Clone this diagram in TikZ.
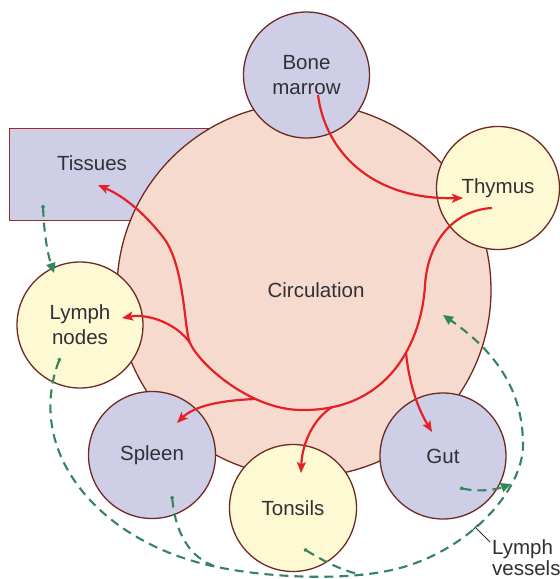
\documentclass[tikz,border=0pt]{standalone}
\usepackage{fontspec}
\setmainfont{Liberation Sans}
\usetikzlibrary{arrows.meta}
\definecolor{peach}{RGB}{247,218,206}
\definecolor{lav}{RGB}{206,206,230}
\definecolor{cream}{RGB}{253,249,210}
\definecolor{edge}{RGB}{110,42,34}
\definecolor{tisedge}{RGB}{150,44,44}
\definecolor{redl}{RGB}{229,32,38}
\definecolor{grn}{RGB}{52,132,92}
\definecolor{txt}{RGB}{48,48,54}
\tikzset{
  organ/.style={circle, draw=edge, line width=1.3pt, inner sep=0pt, align=center, text=txt},
  lavc/.style={organ, fill=lav},
  creamc/.style={organ, fill=cream},
  bigc/.style={circle, draw=edge, line width=1.3pt, fill=peach, inner sep=0pt, minimum size=374pt},
  tisbox/.style={rectangle, draw=tisedge, line width=1.3pt, fill=lav, inner sep=0pt},
  lbl/.style={inner sep=0pt, text=txt, align=center},
  flow/.style={draw=redl, line width=2.2pt, -{Stealth[length=11pt,width=9pt,inset=2.5pt]}},
  lymphflow/.style={draw=grn, line width=2.1pt, dash pattern=on 9pt off 6pt},
  lymphtip/.style={lymphflow, {Circle[length=3.5pt]}-{Triangle[length=10pt,width=9pt]}},
  lymphjoin/.style={lymphflow, {Circle[length=3.5pt]}-},
  leader/.style={draw=txt, line width=0.9pt, {Bar[width=7pt]}-}
}
\begin{document}
\begin{tikzpicture}[x=1pt,y=-1pt,font=\fontsize{20.5}{25}\selectfont]
\useasboundingbox (0,0) rectangle (560,579);
\fill[white] (0,0) rectangle (560,579);

% tissues box (behind circulation)
\node[tisbox, anchor=north west, minimum width=221pt, minimum height=92pt] (tis) at (9,128) {};
% circulation
\node[bigc] (circ) at (304,290) {};
\node[lbl] (circlbl) at (316,290) {Circulation};
\node[lbl] (tislbl) at (92,163) {Tissues};

% organs
\node[lavc, minimum size=126pt] (bm) at (306.5,75) {Bone\\marrow};
\node[creamc, minimum size=123pt] (thy) at (498,188) {Thymus};
\node[creamc, minimum size=126pt] (ln) at (80,325) {Lymph\\nodes};
\node[lavc, minimum size=127pt] (spl) at (152,455) {Spleen};
\node[creamc, minimum size=127pt] (ton) at (293,508) {Tonsils};
\node[lavc, minimum size=126pt] (gut) at (443,456) {Gut};

% red flows
\coordinate (bm-s) at (318,95);
\coordinate (thy-e) at (463,198);
\draw[flow] (bm-s) .. controls (325,150) and (370,200) .. (thy-e);

\coordinate (thy-s) at (492,208);
\coordinate (j) at (190,343);
\coordinate (tis-e) at (98,185);
\draw[flow] (thy-s) .. controls (455,210) and (428,240) .. (425,285)
  .. controls (422,340) and (390,412) .. (300,410)
  .. controls (250,409) and (200,365) .. (j)
  .. controls (184,330) and (185,265) .. (163,237)
  .. controls (148,218) and (128,198) .. (tis-e);

\coordinate (ln-e) at (122,318);
\draw[flow] (j) .. controls (178,325) and (150,313) .. (ln-e);

\coordinate (spl-b) at (256,399);
\coordinate (spl-e) at (177,423);
\draw[flow] (spl-b) .. controls (225,400) and (195,405) .. (spl-e);

\coordinate (ton-b) at (332,407);
\coordinate (ton-e) at (301,473);
\draw[flow] (ton-b) .. controls (312,420) and (302,445) .. (ton-e);

\coordinate (gut-b) at (406,353);
\coordinate (gut-e) at (432,432);
\draw[flow] (gut-b) .. controls (410,390) and (420,412) .. (gut-e);

% lymph vessels
\coordinate (tis-s) at (43,205);
\coordinate (ln-t) at (54,273);
\draw[lymphtip] (tis-s) .. controls (44,235) and (48,255) .. (ln-t);

\coordinate (ln-s) at (60,358);
\coordinate (lv-e) at (443,315);
\draw[lymphtip] (ln-s) .. controls (25,450) and (95,535) .. (200,563)
  .. controls (252,577) and (345,583) .. (400,568)
  .. controls (470,549) and (523,490) .. (523,445)
  .. controls (523,400) and (505,358) .. (lv-e);

\coordinate (spl-s) at (172,496);
\coordinate (spl-j) at (217,567);
\draw[lymphjoin] (spl-s) .. controls (175,530) and (188,558) .. (spl-j);

\coordinate (ton-s) at (304,549);
\coordinate (ton-j) at (363,575);
\draw[lymphjoin] (ton-s) .. controls (325,562) and (345,572) .. (ton-j);

\coordinate (gut-s) at (460,488);
\coordinate (gut-j) at (511,484);
\draw[lymphtip] (gut-s) .. controls (478,492) and (495,490) .. (gut-j);

% label
\node[lbl, anchor=west, align=left, font=\fontsize{20.5}{21}\selectfont] (lvlbl) at (492,558) {Lymph\\vessels};
\coordinate (lv-tick) at (475,527);
\coordinate (lv-lead) at (490,542);
\draw[leader] (lv-tick) -- (lv-lead);
\end{tikzpicture}
\end{document}
